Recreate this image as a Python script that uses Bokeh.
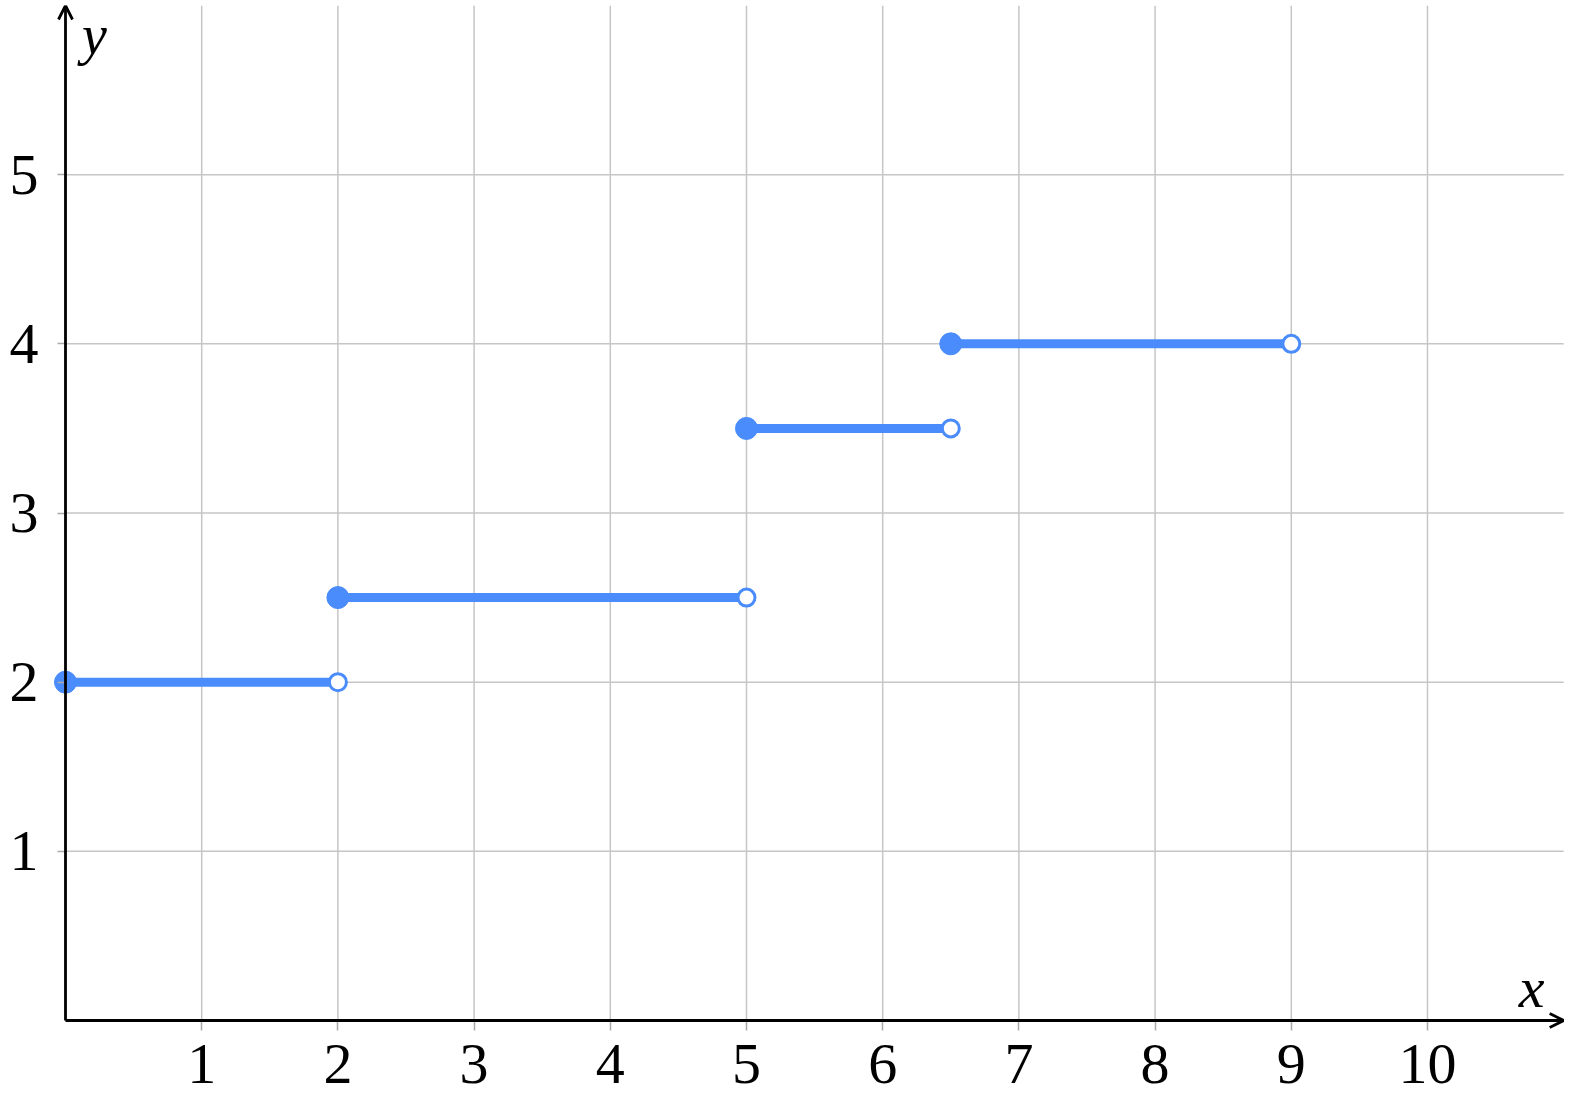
from bokeh.plotting import figure
from bokeh.models import Range1d, Arrow, OpenHead, Label, FixedTicker
from bokeh.embed import file_html
from bokeh.resources import INLINE

# --- data ---
seg_x0 = [0, 2, 5, 6.5]
seg_x1 = [2, 5, 6.5, 9]
seg_y = [2, 2.5, 3.5, 4]
x_ticks = [1, 2, 3, 4, 5, 6, 7, 8, 9, 10]
y_ticks = [1, 2, 3, 4, 5]
x_max = 11.0
y_max = 6.0

BLUE = "#4a8cfc"
GRID = "#c6c6c6"
FONT = "Liberation Serif"

p = figure(width=1564, height=1098, output_backend="svg", toolbar_location=None,
           x_range=Range1d(-0.4185, 11.006), y_range=Range1d(-0.461, 6.0),
           min_border_left=8, min_border_top=5, min_border_right=0, min_border_bottom=0)
p.outline_line_color = None
p.grid.visible = False

# grid lines
p.segment(x0=x_ticks, y0=[0] * len(x_ticks), x1=x_ticks, y1=[y_max] * len(x_ticks),
          line_color=GRID, line_width=1.5)
p.segment(x0=[0] * len(y_ticks), y0=y_ticks, x1=[x_max] * len(y_ticks), y1=y_ticks,
          line_color=GRID, line_width=1.5)

# axes
for ax, ticks in ((p.xaxis[0], x_ticks), (p.yaxis[0], y_ticks)):
    ax.fixed_location = 0
    ax.ticker = FixedTicker(ticks=ticks)
    ax.axis_line_color = None
    ax.major_tick_line_color = "#aaaaaa"
    ax.major_tick_line_width = 1.5
    ax.major_tick_in = 0
    ax.minor_tick_line_color = None
    ax.major_label_text_font = FONT
    ax.major_label_text_font_size = "58px"
    ax.major_label_text_color = "black"
p.xaxis.major_tick_out = 10
p.xaxis.major_label_standoff = 14
p.yaxis.major_tick_out = 8
p.yaxis.major_label_standoff = 19

p.add_layout(Arrow(end=OpenHead(size=14, line_width=2.8), x_start=0, y_start=0,
                   x_end=x_max, y_end=0, line_width=2.8, line_color="black"))
p.add_layout(Arrow(end=OpenHead(size=14, line_width=2.8), x_start=0, y_start=0,
                   x_end=0, y_end=y_max, line_width=2.8, line_color="black"))

p.add_layout(Label(x=x_max, y=0, text="x", x_offset=-32, y_offset=33,
                   text_align="center", text_baseline="alphabetic", text_color="black",
                   text_font=FONT, text_font_style="italic", text_font_size="58px"))
p.add_layout(Label(x=0, y=y_max, text="y", x_offset=29, y_offset=-29,
                   text_align="center", text_baseline="alphabetic", text_color="black",
                   text_font=FONT, text_font_style="italic", text_font_size="56px"))

# step segments
p.segment(x0=seg_x0, y0=seg_y, x1=seg_x1, y1=seg_y, line_color=BLUE, line_width=9)
p.scatter(x=seg_x0, y=seg_y, size=22, fill_color=BLUE, line_color=BLUE)
p.scatter(x=seg_x1, y=seg_y, size=17, fill_color="white", line_color=BLUE, line_width=3)

open("out.html", "w").write(file_html(p, INLINE))
